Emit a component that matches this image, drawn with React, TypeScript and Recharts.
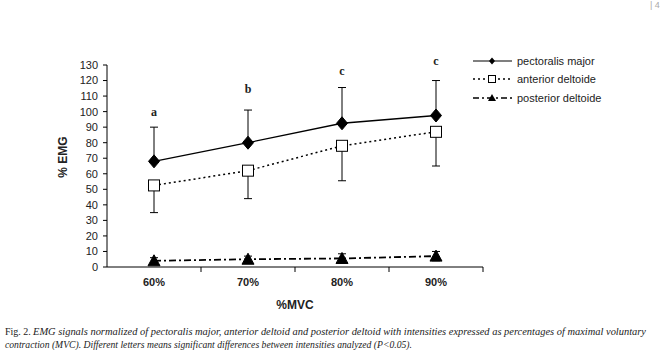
import React from 'react';
import {
  ComposedChart,
  Line,
  XAxis,
  YAxis,
  ErrorBar,
  ReferenceDot,
} from 'recharts';

// Intensity levels (% of maximal voluntary contraction)
const categories = ['60%', '70%', '80%', '90%'];

// Mean normalized EMG (% EMG) and standard deviations per muscle
const pectoralisMajor = [68, 80, 92.5, 97.5];
const pectoralisSD = [22, 21, 23, 22.5];
const anteriorDeltoid = [52.5, 62, 78, 87];
const anteriorSD = [17.5, 18, 22.5, 22];
const posteriorDeltoid = [4, 5, 5.5, 7];
const posteriorSD = [2, 2, 3, 3];

// Significance letters and the height at which each is printed
const letters = ['a', 'b', 'c', 'c'];
const letterHeights = [100, 115, 126, 133];

const yTicks = [0, 10, 20, 30, 40, 50, 60, 70, 80, 90, 100, 110, 120, 130];

const seriesNames = ['pectoralis major', 'anterior deltoide', 'posterior deltoide'];

const captionLine1Lead = 'Fig. 2. ';
const captionLine1 =
  'EMG signals normalized of pectoralis major, anterior deltoid and posterior deltoid with intensities expressed as percentages of maximal voluntary';
const captionLine2 =
  'contraction (MVC). Different letters means significant differences between intensities analyzed (P<0.05).';

const data = categories.map((cat, i) => ({
  cat,
  pec: pectoralisMajor[i],
  pecErr: [0, pectoralisSD[i]],
  ant: anteriorDeltoid[i],
  antErr: [anteriorSD[i], 0],
  post: posteriorDeltoid[i],
  postErr: posteriorSD[i],
}));

const SANS = '"Liberation Sans", Arial, sans-serif';
const SERIF = '"Liberation Serif", "Times New Roman", serif';

const Diamond = (props: any) => {
  const { cx, cy, index } = props;
  if (cx == null || cy == null) return <g key={`d-${index}`} />;
  return (
    <path
      key={`d-${index}`}
      d={`M${cx},${cy - 6.5} L${cx + 5.5},${cy} L${cx},${cy + 6.5} L${cx - 5.5},${cy} Z`}
      fill="#000"
      stroke="#000"
    />
  );
};

const Square = (props: any) => {
  const { cx, cy, index } = props;
  if (cx == null || cy == null) return <g key={`s-${index}`} />;
  return (
    <rect
      key={`s-${index}`}
      x={cx - 5.5}
      y={cy - 5.5}
      width={11}
      height={11}
      fill="#fff"
      stroke="#000"
      strokeWidth={1}
    />
  );
};

const Triangle = (props: any) => {
  const { cx, cy, index } = props;
  if (cx == null || cy == null) return <g key={`t-${index}`} />;
  return (
    <path
      key={`t-${index}`}
      d={`M${cx},${cy - 6} L${cx + 6},${cy + 5} L${cx - 6},${cy + 5} Z`}
      fill="#000"
      stroke="#000"
    />
  );
};

// Category labels centred in each band, tick marks at band boundaries
const XTick = (props: any) => {
  const { x, y, payload } = props;
  const half = payload && payload.offset ? payload.offset : 47;
  return (
    <g>
      <line x1={x + half} x2={x + half} y1={y - 11} y2={y - 6} stroke="#000" strokeWidth={1} />
      <text
        x={x}
        y={y}
        dy="0.71em"
        textAnchor="middle"
        fontFamily={SANS}
        fontSize={11}
        fontWeight="bold"
        fill="#222"
      >
        {payload.value}
      </text>
    </g>
  );
};

const YLabel = (props: any) => {
  const { viewBox } = props;
  const cx = viewBox.x + 16;
  const cy = viewBox.y + viewBox.height / 2 - 9;
  return (
    <text
      x={cx}
      y={cy}
      transform={`rotate(-90 ${cx} ${cy})`}
      textAnchor="middle"
      dominantBaseline="central"
      fontFamily={SANS}
      fontSize={12}
      fontWeight="bold"
      fill="#222"
    >
      % EMG
    </text>
  );
};

const XLabel = (props: any) => {
  const { viewBox } = props;
  return (
    <text
      x={viewBox.x + viewBox.width / 2}
      y={viewBox.y + 38}
      textAnchor="middle"
      dominantBaseline="central"
      fontFamily={SANS}
      fontSize={12}
      fontWeight="bold"
      fill="#222"
    >
      %MVC
    </text>
  );
};

const LegendBox = () => {
  const rows = [
    { dash: undefined, width: 1.2, marker: 'diamond' },
    { dash: '2 3', width: 1.5, marker: 'square' },
    { dash: '6 3 2 3', width: 1.5, marker: 'triangle' },
  ];
  const rowY = [11, 29, 48];
  return (
    <svg width={200} height={60} style={{ position: 'absolute', left: 470, top: 50 }}>
      {rows.map((r, i) => {
        const y = rowY[i];
        const mx = 22;
        return (
          <g key={seriesNames[i]}>
            <line x1={3} x2={42} y1={y} y2={y} stroke="#000" strokeWidth={r.width} strokeDasharray={r.dash} />
            {r.marker === 'diamond' && (
              <path d={`M${mx},${y - 3.5} L${mx + 3},${y} L${mx},${y + 3.5} L${mx - 3},${y} Z`} fill="#000" />
            )}
            {r.marker === 'square' && (
              <rect x={mx - 3.5} y={y - 3.5} width={7} height={7} fill="#fff" stroke="#000" strokeWidth={1} />
            )}
            {r.marker === 'triangle' && (
              <path d={`M${mx},${y - 4} L${mx + 4},${y + 3} L${mx - 4},${y + 3} Z`} fill="#000" />
            )}
            <text x={47} y={y} dominantBaseline="central" fontFamily={SANS} fontSize={11} fill="#222">
              {seriesNames[i]}
            </text>
          </g>
        );
      })}
    </svg>
  );
};

const Caption = () => (
  <svg width={669} height={35} style={{ position: 'absolute', left: 0, top: 315 }}>
    <text x={5} y={20} fontFamily={SERIF} fontSize={10} fill="#222">
      {captionLine1Lead}
    </text>
    <text
      x={33}
      y={20}
      fontFamily={SERIF}
      fontSize={10}
      fontStyle="italic"
      fill="#222"
      textLength={613}
      lengthAdjust="spacingAndGlyphs"
    >
      {captionLine1}
    </text>
    <text
      x={5}
      y={33}
      fontFamily={SERIF}
      fontSize={10}
      fontStyle="italic"
      fill="#222"
      textLength={407}
      lengthAdjust="spacingAndGlyphs"
    >
      {captionLine2}
    </text>
  </svg>
);

export default function App() {
  return (
    <div style={{ position: 'absolute', left: 0, top: 0, width: 669, height: 350, background: '#fff' }}>
      <ComposedChart
        width={669}
        height={350}
        data={data}
        margin={{ top: 65, right: 186, bottom: 53, left: 47 }}
      >
        <XAxis
          dataKey="cat"
          scale="band"
          height={30}
          axisLine={{ stroke: '#000', strokeWidth: 1 }}
          tickLine={false}
          tickSize={0}
          tickMargin={11}
          tick={<XTick />}
          label={<XLabelWrap />}
        />
        <YAxis
          width={60}
          domain={[0, 130]}
          ticks={yTicks}
          interval={0}
          axisLine={{ stroke: '#000', strokeWidth: 1 }}
          tickLine={{ stroke: '#000' }}
          tickSize={4}
          tickMargin={5}
          tick={{ fontFamily: SANS, fontSize: 11, fill: '#222' }}
          label={<YLabelWrap />}
        />
        <Line
          dataKey="pec"
          stroke="#000"
          strokeWidth={1.3}
          dot={Diamond}
          activeDot={false}
          isAnimationActive={false}
        >
          <ErrorBar dataKey="pecErr" width={4} stroke="#000" strokeWidth={1} direction="y" />
        </Line>
        <Line
          dataKey="ant"
          stroke="#000"
          strokeWidth={1.5}
          strokeDasharray="2 3"
          dot={Square}
          activeDot={false}
          isAnimationActive={false}
        >
          <ErrorBar dataKey="antErr" width={4} stroke="#000" strokeWidth={1} direction="y" />
        </Line>
        <Line
          dataKey="post"
          stroke="#000"
          strokeWidth={1.8}
          strokeDasharray="7 3 2 3"
          dot={Triangle}
          activeDot={false}
          isAnimationActive={false}
        >
          <ErrorBar dataKey="postErr" width={4} stroke="#000" strokeWidth={1} direction="y" />
        </Line>
        {categories.map((cat, i) => (
          <ReferenceDot
            key={`letter-${cat}`}
            x={cat}
            y={letterHeights[i]}
            r={0}
            fill="none"
            stroke="none"
            ifOverflow="visible"
            label={{
              value: letters[i],
              position: 'center',
              fontFamily: SERIF,
              fontSize: 12,
              fontWeight: 'bold',
              fill: '#222',
            }}
          />
        ))}
      </ComposedChart>
      <LegendBox />
      <Caption />
      <div
        style={{
          position: 'absolute',
          left: 650,
          top: 0,
          fontFamily: SANS,
          fontSize: 9,
          lineHeight: '10px',
          color: '#aaa',
        }}
      >
        | 4
      </div>
    </div>
  );
}

function XLabelWrap(props: any) {
  return <XLabel {...props} />;
}

function YLabelWrap(props: any) {
  return <YLabel {...props} />;
}
